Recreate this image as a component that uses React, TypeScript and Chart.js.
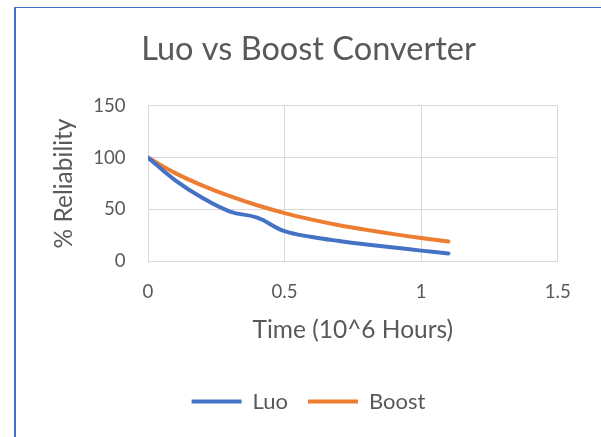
import React, { useEffect, useRef } from "react";
import { Chart, registerables } from "chart.js";

Chart.register(...registerables);

const TITLE = "Luo vs Boost Converter";
const X_TITLE = "Time (10^6 Hours)";
const Y_TITLE = "% Reliability";
const SERIES_NAMES = ["Luo", "Boost"];

const times = [0, 0.1, 0.2, 0.3, 0.4, 0.5, 0.6, 0.7, 0.8, 0.9, 1.0, 1.1];
const luo = [100, 78, 61, 48, 42, 29, 23.5, 19.6, 16.3, 13.3, 10.3, 7.6];
const boost = [100, 85, 73, 62.8, 54, 46.5, 40.2, 34.8, 30.3, 26.2, 22.4, 19];

const X_MIN = 0;
const X_MAX = 1.5;
const X_STEP = 0.5;
const Y_MIN = 0;
const Y_MAX = 150;
const Y_STEP = 50;

const TEXT = "#595959";
const GRID = "#d9d9d9";
const FONT = "Lato";

export default function App() {
  const ref = useRef<HTMLCanvasElement | null>(null);

  useEffect(() => {
    if (!ref.current) return;
    const toPts = (ys: number[]) => times.map((t, i) => ({ x: t, y: ys[i] }));
    const chart = new Chart(ref.current, {
      type: "line",
      data: {
        datasets: [
          {
            label: SERIES_NAMES[0],
            data: toPts(luo),
            borderColor: "#4472C4",
            backgroundColor: "#4472C4",
            borderWidth: 4,
            pointRadius: 0,
            tension: 0.4,
            borderCapStyle: "round",
            fill: false,
          },
          {
            label: SERIES_NAMES[1],
            data: toPts(boost),
            borderColor: "#ED7D31",
            backgroundColor: "#ED7D31",
            borderWidth: 4,
            pointRadius: 0,
            tension: 0.4,
            borderCapStyle: "round",
            fill: false,
          },
        ],
      },
      options: {
        animation: false,
        responsive: false,
        devicePixelRatio: 1,
        layout: { padding: { top: 0, left: 0, right: 0, bottom: 14.5 } },
        plugins: {
          title: {
            display: true,
            text: TITLE,
            color: TEXT,
            font: { family: FONT, size: 32.5, weight: "normal", lineHeight: 1.2 },
            padding: { top: 22.4, bottom: 36.3 },
          },
          legend: {
            position: "bottom",
            labels: {
              usePointStyle: true,
              pointStyle: "line",
              pointStyleWidth: 50,
              color: TEXT,
              font: { family: FONT, size: 22 },
              padding: 20,
            },
          },
          tooltip: { enabled: false },
        },
        scales: {
          x: {
            type: "linear",
            position: "bottom",
            min: X_MIN,
            max: X_MAX,
            ticks: {
              stepSize: X_STEP,
              color: TEXT,
              font: { family: FONT, size: 18.6, lineHeight: 1.2 },
              padding: 19.5,
              callback: (v: any) => String(Number(v)),
            },
            grid: { color: GRID, lineWidth: 1, drawTicks: false },
            border: { color: GRID, width: 1 },
            title: {
              display: true,
              text: X_TITLE,
              color: TEXT,
              font: { family: FONT, size: 24.5, lineHeight: 1.2 },
              padding: { top: 0, bottom: 25.8 },
            },
            afterFit: (s: any) => {
              s.height = 109.2;
            },
          },
          y: {
            type: "linear",
            position: "left",
            min: Y_MIN,
            max: Y_MAX,
            ticks: {
              stepSize: Y_STEP,
              color: TEXT,
              font: { family: FONT, size: 18.6, lineHeight: 1.2 },
              padding: 22.5,
            },
            grid: { color: GRID, lineWidth: 1, drawTicks: false },
            border: { color: GRID, width: 1 },
            title: {
              display: true,
              text: Y_TITLE,
              color: TEXT,
              font: { family: FONT, size: 24.5, lineHeight: 1.2 },
              padding: { top: 33.4, bottom: 0 },
            },
            afterFit: (s: any) => {
              s.width = 132;
            },
          },
          spacer: {
            type: "linear",
            position: "right",
            display: true,
            grid: { display: false, drawTicks: false },
            border: { display: false },
            ticks: { display: false },
            afterFit: (s: any) => {
              s.width = 43.3;
            },
          },
        },
      },
    } as any);
    return () => chart.destroy();
  }, []);

  return (
    <div
      style={{
        position: "fixed",
        left: 0,
        top: 0,
        width: 601,
        height: 437,
        background: "#ffffff",
        overflow: "hidden",
      }}
    >
      <canvas
        ref={ref}
        width={585}
        height={429}
        style={{ position: "absolute", left: 16, top: 8, width: 585, height: 429 }}
      />
      <div
        style={{
          position: "absolute",
          left: 14,
          top: 7,
          width: 587,
          height: 430,
          boxSizing: "border-box",
          borderLeft: "2px solid #4472C4",
          borderTop: "1px solid #4472C4",
          pointerEvents: "none",
        }}
      />
    </div>
  );
}
